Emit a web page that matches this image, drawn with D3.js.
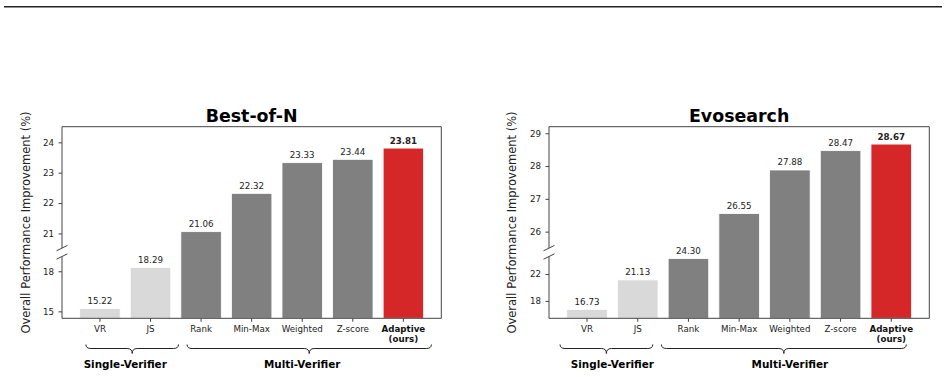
<!DOCTYPE html>
<html>
<head>
<meta charset="utf-8">
<script src="https://cdn.jsdelivr.net/npm/d3@7"></script>
<style>
  body { margin: 0; background: #fff; }
  svg text { font-family: "DejaVu Sans", sans-serif; }
</style>
</head>
<body>
<div class="container"></div>
<script>
// data
const methods = ["VR", "JS", "Rank", "Min-Max", "Weighted", "Z-score", "Adaptive"];
const methodGroup = ["Single-Verifier", "Single-Verifier", "Multi-Verifier", "Multi-Verifier",
  "Multi-Verifier", "Multi-Verifier", "Multi-Verifier"];
const bestOfNValues = [15.22, 18.29, 21.06, 22.32, 23.33, 23.44, 23.81];
const evosearchValues = [16.73, 21.13, 24.30, 26.55, 27.88, 28.47, 28.67];
const bestOfNTicks = [15, 18, 21, 22, 23, 24];
const evosearchTicks = [18, 22, 26, 27, 28, 29];
const groupNames = ["Single-Verifier", "Multi-Verifier"];

const width = 948;
const height = 377;
const top0 = 126.7;
const bottom0 = 318.3;
const breakY = 252.3;

const panels = [
  { title: "Best-of-N", values: bestOfNValues, ticks: bestOfNTicks,
    domain: [14.48, 19.42, 20.38, 24.514], x0: 62, x1: 441.3, yLabelX: 30,
    braceL: -14, braceR: 28 },
  { title: "Evosearch", values: evosearchValues, ticks: evosearchTicks,
    domain: [15.41, 25.24, 25.37, 29.2], x0: 549, x1: 929.3, yLabelX: 516,
    braceL: -27, braceR: 15 }
];

const colorOf = (i) => i < 2 ? "#d9d9d9" : (i === 6 ? "#d62728" : "#808080");

const svg = d3.select(".container")
  .append("svg")
  .attr("xmlns", "http://www.w3.org/2000/svg")
  .attr("width", width)
  .attr("height", height)
  .attr("viewBox", `0 0 ${width} ${height}`);

svg.append("rect")
  .attr("width", width).attr("height", height).attr("fill", "#fff");

// rule at the top
svg.append("line")
  .attr("x1", 4).attr("x2", 942)
  .attr("y1", 6.8).attr("y2", 6.8)
  .attr("stroke", "#222")
  .attr("stroke-width", 1.6);

panels.forEach((p) => {
  const g = svg.append("g");

  const x = d3.scaleBand()
    .domain(methods)
    .range([p.x0, p.x1])
    .paddingInner(0.2)
    .paddingOuter(0.35);

  // broken axis: piecewise linear scale
  const y = d3.scaleLinear()
    .domain(p.domain)
    .range([bottom0, breakY, breakY, top0]);

  // bars
  g.selectAll("rect.bar")
    .data(p.values)
    .join("rect")
    .attr("class", "bar")
    .attr("x", (d, i) => x(methods[i]))
    .attr("width", x.bandwidth())
    .attr("y", (d) => y(d))
    .attr("height", (d) => bottom0 - y(d))
    .attr("fill", (d, i) => colorOf(i))
    .attr("stroke", "#fff")
    .attr("stroke-width", 0.8);

  // value labels
  g.selectAll("text.val")
    .data(p.values)
    .join("text")
    .attr("class", "val")
    .attr("x", (d, i) => x(methods[i]) + x.bandwidth() / 2)
    .attr("y", (d) => y(d) - 4.5)
    .attr("text-anchor", "middle")
    .style("font-size", "8.7px")
    .style("font-weight", (d, i) => i === 6 ? "bold" : "normal")
    .attr("fill", "#222")
    .text((d) => d.toFixed(2));

  // y axis
  const yAxis = g.append("g")
    .attr("transform", `translate(${p.x0},0)`)
    .call(d3.axisLeft(y).tickValues(p.ticks).tickSize(3.5).tickPadding(4.5)
      .tickFormat(d3.format("d")));
  yAxis.select(".domain").remove();
  yAxis.selectAll(".tick line").attr("stroke", "#444");
  yAxis.selectAll(".tick text")
    .style("font-size", "8.7px")
    .attr("fill", "#222");

  // x axis
  const xAxis = g.append("g")
    .attr("transform", `translate(0,${bottom0})`)
    .call(d3.axisBottom(x).tickSize(3.5).tickPadding(4.3));
  xAxis.select(".domain").remove();
  xAxis.selectAll(".tick line").attr("stroke", "#444");
  xAxis.selectAll(".tick text")
    .style("font-size", "8.7px")
    .attr("fill", "#222")
    .each(function (d) {
      if (d === "Adaptive") {
        const t = d3.select(this).style("font-weight", "bold").attr("fill", "#111").text(null);
        t.append("tspan").attr("x", 0).text("Adaptive");
        t.append("tspan").attr("x", 0).attr("dy", "1.15em").text("(ours)");
      }
    });

  // frame with a gap on the left spine
  const frame = g.append("g")
    .attr("fill", "none")
    .attr("stroke", "#444")
    .attr("stroke-width", 1);
  frame.append("path")
    .attr("d", `M${p.x0},${breakY - 4.2}V${top0}H${p.x1}V${bottom0}H${p.x0}V${breakY + 4.2}`);
  [-4.2, 4.2].forEach((dy) => {
    frame.append("line")
      .attr("x1", p.x0 - 5.5).attr("y1", breakY + dy + 2.7)
      .attr("x2", p.x0 + 5.5).attr("y2", breakY + dy - 2.7);
  });

  // title
  g.append("text")
    .attr("x", (p.x0 + p.x1) / 2)
    .attr("y", 121.7)
    .attr("text-anchor", "middle")
    .style("font-size", "17.4px")
    .style("font-weight", "bold")
    .attr("fill", "#000")
    .text(p.title);

  // y label
  g.append("text")
    .attr("transform", `translate(${p.yLabelX},${(top0 + bottom0) / 2}) rotate(-90)`)
    .attr("text-anchor", "middle")
    .style("font-size", "11.5px")
    .attr("fill", "#222")
    .text("Overall Performance Improvement (%)");

  // group braces
  groupNames.forEach((name) => {
    const members = methods.filter((m, i) => methodGroup[i] === name);
    const c0 = x(members[0]) + x.bandwidth() / 2;
    const c1 = x(members[members.length - 1]) + x.bandwidth() / 2;
    const bx0 = c0 + p.braceL;
    const bx1 = c1 + p.braceR;
    const bc = (bx0 + bx1) / 2;
    const yTop = 344.5, yMid = 348.5, yTip = 353.5;
    g.append("path")
      .attr("d", `M${bx0},${yTop}Q${bx0},${yMid} ${bx0 + 5},${yMid}L${bc - 5},${yMid}` +
        `Q${bc},${yMid} ${bc},${yTip}Q${bc},${yMid} ${bc + 5},${yMid}L${bx1 - 5},${yMid}` +
        `Q${bx1},${yMid} ${bx1},${yTop}`)
      .attr("fill", "none")
      .attr("stroke", "#222")
      .attr("stroke-width", 1);

    g.append("text")
      .attr("x", (c0 + c1) / 2)
      .attr("y", 368.3)
      .attr("text-anchor", "middle")
      .style("font-size", "10.4px")
      .style("font-weight", "bold")
      .attr("fill", "#000")
      .text(name);
  });
});
</script>
</body>
</html>
